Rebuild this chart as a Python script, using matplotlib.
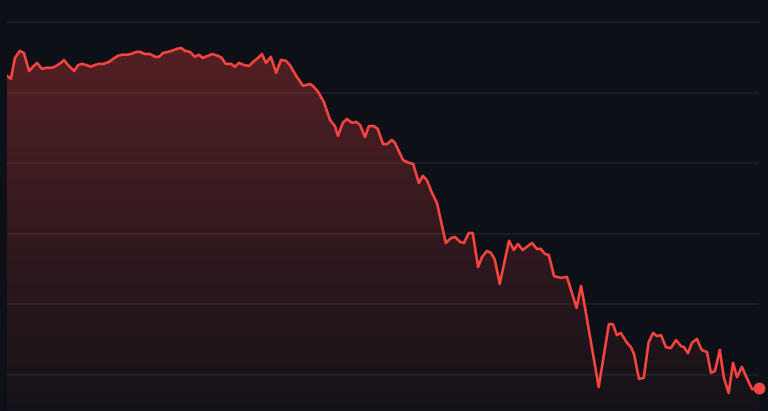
import numpy as np
import matplotlib
matplotlib.use("Agg")
from matplotlib import pyplot as plt
from matplotlib.colors import LinearSegmentedColormap

# values (x = day index, y = price level)
days = [0.0, 0.9, 1.8, 2.9, 3.8, 5.0, 5.9, 6.8, 7.9, 9.0, 10.2, 11.1, 12.2, 12.9, 13.8,
        15.2, 16.1, 17.0, 17.9, 19.0, 19.9, 20.8, 21.9, 23.1, 24.0, 25.1, 26.0, 27.1, 28.1,
        29.2, 30.1, 31.2, 32.4, 33.5, 34.4, 35.3, 36.4, 37.3, 38.5, 39.4, 40.3, 41.4, 42.5,
        43.4, 44.3, 45.5, 46.4, 47.7, 48.6, 49.5, 50.7, 51.6, 52.5, 53.6, 54.8, 55.7, 56.8,
        57.7, 58.6, 59.7, 60.9, 62.0, 63.1, 64.0, 65.6, 67.0, 68.6, 69.2, 70.4, 71.7, 73.1,
        74.2, 74.9, 76.0, 76.9, 78.1, 79.0, 79.9, 81.0, 81.9, 83.0, 83.9, 85.1, 86.0, 87.1,
        87.8, 89.6, 90.9, 91.9, 93.2, 94.1, 95.0, 96.2, 97.3, 99.3, 100.5, 101.4, 102.5,
        103.4, 104.5, 105.4, 106.6, 107.5, 108.6, 109.5, 110.4, 111.5, 113.6, 114.7, 115.6,
        116.7, 118.8, 119.9, 120.8, 121.7, 122.6, 123.8, 125.3, 126.7, 128.9, 129.9, 130.5,
        133.9, 136.2, 137.1, 138.0, 138.9, 140.3, 141.2, 141.9, 143.0, 144.1, 145.2, 146.2,
        147.1, 148.0, 149.1, 150.2, 151.4, 152.5, 153.2, 154.1, 155.0, 156.1, 157.2, 158.4,
        159.3, 160.2, 161.3, 162.2, 163.3, 164.3, 165.2, 166.3, 167.4, 168.6, 170.1]
price = [84.7, 83.9, 89.8, 91.8, 91.2, 86.1, 87.3, 88.4, 86.7, 87.0, 87.0, 87.5, 88.4, 89.2, 87.8,
         86.1, 87.8, 88.1, 87.8, 87.3, 87.8, 88.1, 88.1, 88.7, 89.5, 90.4, 90.7, 90.7, 90.9,
         91.5, 91.5, 90.9, 90.9, 90.1, 90.1, 91.2, 91.5, 91.8, 92.4, 92.6, 91.8, 91.5, 90.1,
         90.7, 89.8, 90.4, 90.9, 90.4, 89.8, 88.1, 88.1, 87.3, 88.4, 87.8, 87.5, 88.7, 89.8,
         90.9, 88.4, 90.1, 85.6, 89.2, 89.0, 87.8, 84.4, 81.9, 82.4, 81.9, 80.2, 77.3, 72.2,
         70.5, 67.7, 71.4, 72.5, 71.4, 71.7, 70.8, 67.4, 70.5, 70.5, 69.7, 65.4, 65.4, 66.6,
         65.7, 60.9, 60.1, 59.8, 54.4, 56.4, 55.2, 51.5, 48.7, 37.4, 38.8, 39.1, 37.7,
         37.4, 40.2, 40.2, 30.6, 33.4, 35.1, 34.6, 32.6, 25.8, 38.0, 35.4, 37.1,
         35.4, 37.4, 35.7, 35.7, 34.3, 34.0, 28.0, 27.5, 27.8, 19.0, 25.2, 21.2,
         -3.4, 14.4, 14.4, 11.3, 11.9, 9.1, 7.9, 5.9, -1.1, -0.8, 9.3, 11.9,
         11.0, 11.3, 7.9, 7.6, 9.9, 8.2, 7.9, 6.2, 9.1, 10.2, 7.1, 6.5,
         0.6, 1.1, 7.1, -0.6, -5.1, 3.4, -0.6, 2.3, -0.8, -4.0, -3.7]
grid_levels = [0, 20, 40, 60, 80, 100]

bg = '#0d1117'
red = '#f7443f'

fig = plt.figure(figsize=(7.68, 4.11), dpi=100, facecolor=bg)
ax = fig.add_axes([7/768, 0, 753/768, 1])
ax.set_facecolor(bg)
ax.set_xlim(0, 170.4)
ax.set_ylim(-10.2, 106.2)

x = np.array(days)
y = np.array(price)

# gradient fill under the line
poly = ax.fill_between(x, y, -10.2, color='none', lw=0)
cmap = LinearSegmentedColormap.from_list('fade', [(1, 0.27, 0.27, 0.03), (1, 0.27, 0.27, 0.29)])
grad = np.linspace(0, 1, 256).reshape(-1, 1)
img = ax.imshow(grad, cmap=cmap, aspect='auto', origin='lower',
                extent=[0, 170.4, -10.2, max(price)], zorder=1)
img.set_clip_path(poly.get_paths()[0], transform=ax.transData)

for g in grid_levels:
    ax.axhline(g, xmin=0, xmax=0.997, color='white', alpha=0.06, lw=1.2, zorder=2)

ax.plot(x, y, color=red, lw=1.9, zorder=3, solid_joinstyle='round')
ax.plot(x[-1], y[-1], 'o', color=red, ms=7.5, zorder=4, clip_on=False)

for s in ax.spines.values():
    s.set_visible(False)
ax.set_xticks([])
ax.set_yticks([])

fig.savefig('out.png', dpi=100, facecolor=bg)
